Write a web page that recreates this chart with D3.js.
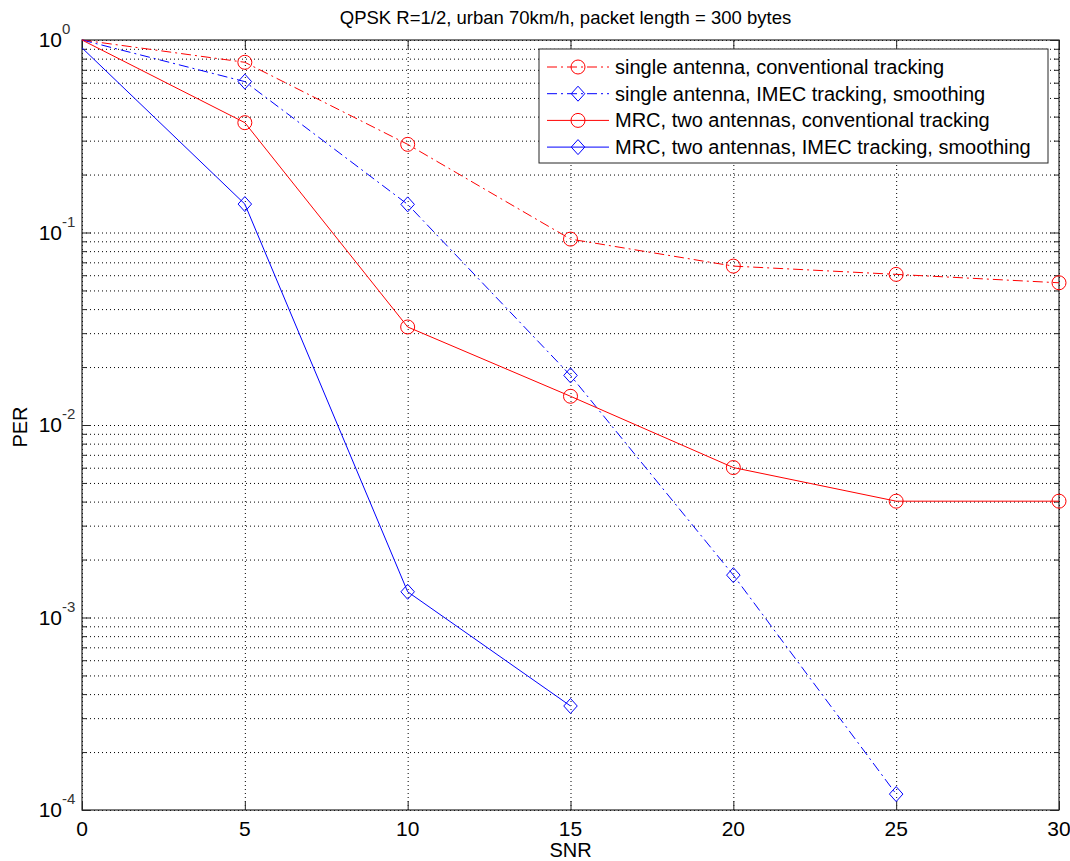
<!DOCTYPE html>
<html>
<head>
<meta charset="utf-8">
<script src="https://cdn.jsdelivr.net/npm/d3@7"></script>
<style>
  body { margin: 0; background: #fff; }
  svg { font-family: "Liberation Sans", Arial, sans-serif; }
</style>
</head>
<body>
<svg id="chart" width="1070" height="861"></svg>
<script>
// data
var snr = [0, 5, 10, 15, 20, 25, 30];
var perSingleConv = [1, 0.766, 0.287, 0.0924, 0.0669, 0.0606, 0.0548];
var perSingleImec = [1, 0.608, 0.140, 0.0181, 0.00166, 0.000121];
var perMrcConv = [1, 0.372, 0.0323, 0.0141, 0.00601, 0.00402, 0.00402];
var perMrcImec = [0.91, 0.1405, 0.00136, 0.000347];

var seriesNames = [
  "single antenna, conventional tracking",
  "single antenna, IMEC tracking, smoothing",
  "MRC, two antennas, conventional tracking",
  "MRC, two antennas, IMEC tracking, smoothing"
];
var xTicks = [0, 5, 10, 15, 20, 25, 30];
var yDecades = [0, -1, -2, -3, -4];

var series = [
  { name: seriesNames[0], values: perSingleConv, color: "#ff0000", dash: "10,4,2,4", marker: "circle" },
  { name: seriesNames[1], values: perSingleImec, color: "#0000ff", dash: "10,4,2,4", marker: "diamond" },
  { name: seriesNames[2], values: perMrcConv, color: "#ff0000", dash: null, marker: "circle" },
  { name: seriesNames[3], values: perMrcImec, color: "#0000ff", dash: null, marker: "diamond" }
];

var margin = { left: 82, top: 40, right: 11, bottom: 51 };
var W = 1070, H = 861;
var w = W - margin.left - margin.right;
var h = H - margin.top - margin.bottom;

var svg = d3.select("#chart");
var g = svg.append("g").attr("transform", "translate(" + margin.left + "," + margin.top + ")");

var x = d3.scaleLinear().domain([0, 30]).range([0, w]);
var y = d3.scaleLog().domain([1e-4, 1]).range([h, 0]);

// all log ticks (majors + minors)
var majorY = yDecades.map(function(e) { return Math.pow(10, e); });
var minorY = [];
for (var e = -4; e < 0; e++) {
  for (var m = 2; m <= 9; m++) minorY.push(m * Math.pow(10, e));
}
var allY = majorY.concat(minorY);

// grid
g.append("g").attr("class", "grid")
  .call(d3.axisLeft(y).tickValues(allY).tickSize(-w).tickFormat(""))
  .call(function(s) { s.select(".domain").remove(); });
g.append("g").attr("class", "grid")
  .attr("transform", "translate(0," + h + ")")
  .call(d3.axisBottom(x).tickValues(xTicks).tickSize(-h).tickFormat(""))
  .call(function(s) { s.select(".domain").remove(); });
g.selectAll(".grid line")
  .attr("stroke", "#000")
  .attr("stroke-width", 1)
  .attr("stroke-dasharray", "1,3");

// inward ticks on all four sides
function tickAxis(axis, size, vals, tr) {
  var a = g.append("g").attr("class", "ticks");
  if (tr) a.attr("transform", tr);
  a.call(axis.tickValues(vals).tickSize(size).tickFormat(""))
    .call(function(s) { s.select(".domain").remove(); });
  a.selectAll("line").attr("stroke", "#262626");
}
tickAxis(d3.axisLeft(y), -9, majorY);
tickAxis(d3.axisLeft(y), -5, minorY);
tickAxis(d3.axisRight(y), -9, majorY, "translate(" + w + ",0)");
tickAxis(d3.axisRight(y), -5, minorY, "translate(" + w + ",0)");
tickAxis(d3.axisBottom(x), -9, xTicks, "translate(0," + h + ")");
tickAxis(d3.axisTop(x), -9, xTicks);

// box
g.append("rect")
  .attr("width", w).attr("height", h)
  .attr("fill", "none").attr("stroke", "#262626").attr("stroke-width", 1.2);

// x tick labels
g.selectAll(".xlab").data(xTicks).enter().append("text")
  .attr("x", function(d) { return x(d); })
  .attr("y", h + 26)
  .attr("text-anchor", "middle")
  .style("font-size", "21px")
  .text(function(d) { return d; });

// y tick labels: "10" plus a superscript exponent
g.selectAll(".ylab").data(yDecades).enter().append("text")
  .attr("x", -20)
  .attr("y", function(d) { return y(Math.pow(10, d)) + 7; })
  .attr("text-anchor", "end")
  .style("font-size", "21px")
  .text("10");
g.selectAll(".yexp").data(yDecades).enter().append("text")
  .attr("x", -20)
  .attr("y", function(d) { return y(Math.pow(10, d)) - 6; })
  .attr("text-anchor", "start")
  .style("font-size", "15px")
  .style("fill", "#333")
  .text(function(d) { return d; });

// lines and markers
var line = d3.line()
  .x(function(d, i) { return x(snr[i]); })
  .y(function(d) { return y(d); });

function drawMarker(sel, type, color, cx, cy) {
  if (type === "circle") {
    sel.append("circle").attr("cx", cx).attr("cy", cy).attr("r", 7)
      .attr("fill", "none").attr("stroke", color).attr("stroke-width", 1);
  } else {
    var r = 7.5;
    sel.append("path")
      .attr("d", "M" + cx + "," + (cy - r) + "L" + (cx + r * 0.9) + "," + cy +
        "L" + cx + "," + (cy + r) + "L" + (cx - r * 0.9) + "," + cy + "Z")
      .attr("fill", "none").attr("stroke", color).attr("stroke-width", 1);
  }
}

series.forEach(function(s) {
  g.append("path")
    .datum(s.values)
    .attr("d", line)
    .attr("fill", "none")
    .attr("stroke", s.color)
    .attr("stroke-width", 1)
    .attr("stroke-dasharray", s.dash);
  var mg = g.append("g");
  s.values.forEach(function(v, i) {
    if (i === 0) return;
    drawMarker(mg, s.marker, s.color, x(snr[i]), y(v));
  });
});

// legend
var lg = svg.append("g").attr("transform", "translate(539,49)");
lg.append("rect").attr("width", 509).attr("height", 114)
  .attr("fill", "#fff").attr("stroke", "#262626").attr("stroke-width", 1);
series.forEach(function(s, i) {
  var ry = 18 + i * 26.7;
  lg.append("line")
    .attr("x1", 8).attr("x2", 70).attr("y1", ry).attr("y2", ry)
    .attr("stroke", s.color).attr("stroke-width", 1)
    .attr("stroke-dasharray", s.dash);
  drawMarker(lg, s.marker, s.color, 39, ry);
  lg.append("text")
    .attr("x", 76).attr("y", ry + 7)
    .style("font-size", "20px")
    .text(s.name);
});

// title and axis labels
svg.append("text")
  .attr("x", margin.left + w / 2 - 5).attr("y", 24)
  .attr("text-anchor", "middle")
  .style("font-size", "18.5px")
  .text("QPSK R=1/2, urban 70km/h, packet length = 300 bytes");
svg.append("text")
  .attr("x", margin.left + w / 2).attr("y", 857)
  .attr("text-anchor", "middle")
  .style("font-size", "20px")
  .text("SNR");
svg.append("text")
  .attr("transform", "translate(27," + (margin.top + h / 2 + 2) + ") rotate(-90)")
  .attr("text-anchor", "middle")
  .style("font-size", "20px")
  .text("PER");
</script>
</body>
</html>
